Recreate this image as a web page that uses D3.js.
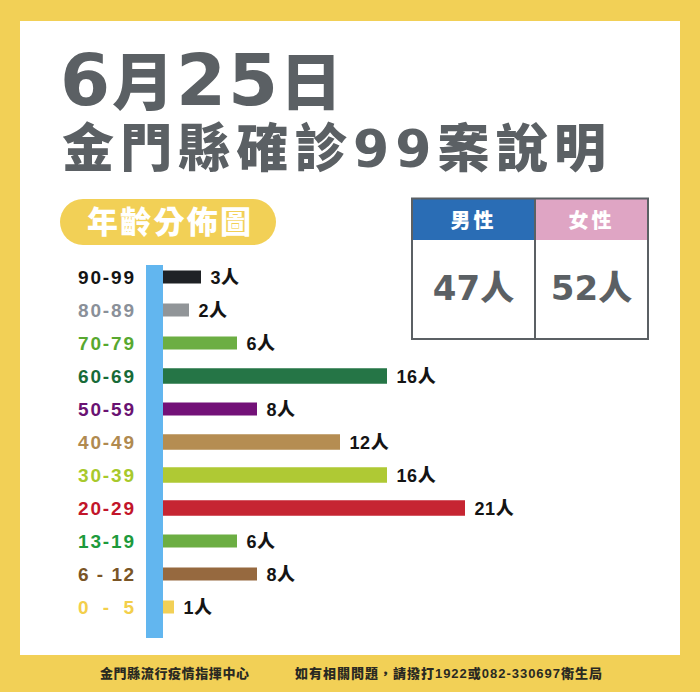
<!DOCTYPE html>
<html>
<head>
<meta charset="utf-8">
<script src="https://cdnjs.cloudflare.com/ajax/libs/d3/7.8.5/d3.min.js"></script>
<style>
  html, body { margin: 0; padding: 0; background: #fff; }
  svg { display: block; }
  text { font-family: "Liberation Sans", "Noto Sans CJK TC", sans-serif; font-weight: 700; }
  .cjk { font-family: "DejaVu Sans", "Noto Sans CJK TC", sans-serif; font-weight: 900; }
  .pie { font-family: "Liberation Sans", "Noto Sans CJK TC", sans-serif; font-weight: 900; }
</style>
</head>
<body>
<svg id="grafico" width="700" height="692"></svg>
<script>
// datos
const grupos = ["90-99", "80-89", "70-79", "60-69", "50-59", "40-49", "30-39", "20-29", "13-19", "6 - 12", "0  -  5"];
const casos = [3, 2, 6, 16, 8, 12, 16, 21, 6, 8, 1];
const coloresBarra = ["#1f2225", "#919598", "#6cae43", "#257546", "#731178", "#b58d52", "#afc934", "#c62532", "#6cae43", "#96693f", "#f2d056"];
const coloresGrupo = ["#141414", "#8a9099", "#58a82f", "#176b38", "#6a1272", "#b08a50", "#a8c92c", "#c2152a", "#1d9a3c", "#7a5526", "#f3cf4b"];
const generos = ["男性", "女性"];
const generoCasos = [47, 52];
const coloresGenero = ["#2a6db5", "#dfa5c4"];
const titulo1 = "6月25日";
const titulo2 = "金門縣確診99案說明";
const subtitulo = "年齡分佈圖";
const pie1 = "金門縣流行疫情指揮中心";
const pie2 = "如有相關問題，請撥打1922或082-330697衛生局";

const AMARILLO = "#f2d056";
const GRIS = "#5b6064";
const svg = d3.select("#grafico");

// fondo
svg.append("rect").attr("width", 700).attr("height", 692).attr("fill", AMARILLO);
svg.append("rect").attr("x", 20).attr("y", 21).attr("width", 660).attr("height", 634).attr("fill", "#fff");

// titulo con numeros mas grandes que los ideogramas
function titulo(texto, xIni, yBase, largo, tamCjk, tamNum) {
  const t = svg.append("text").attr("class", "cjk").attr("x", xIni).attr("y", yBase)
    .attr("fill", GRIS).attr("textLength", largo);
  texto.match(/\d+|\D+/g).forEach(trozo => {
    t.append("tspan")
      .attr("font-size", /\d/.test(trozo) ? tamNum : tamCjk)
      .text(trozo);
  });
}
titulo(titulo1, 60, 105, 282, 62, 72);
titulo(titulo2, 62, 167, 544, 52, 52);

// subtitulo
svg.append("rect").attr("x", 60).attr("y", 199).attr("width", 216).attr("height", 46)
  .attr("rx", 23).attr("fill", AMARILLO);
svg.append("text").attr("class", "pie").attr("x", 87).attr("y", 233)
  .attr("font-size", 31).attr("fill", "#fff").attr("textLength", 164).text(subtitulo);

// la escala del original no es del todo proporcional, por eso va por tramos
const x = d3.scaleLinear()
  .domain([0, 1, 2, 3, 6, 8, 12, 16, 21])
  .range([163, 174, 189, 201, 237, 257, 340, 387, 465]);

const y = d3.scalePoint().domain(grupos).range([277, 607]);

const grosor = d => d >= 12 ? 15.5 : 13;

const filas = grupos.map((g, i) => ({ grupo: g, valor: casos[i], color: coloresBarra[i] }));

svg.append("g").selectAll("rect")
  .data(filas)
  .join("rect")
  .attr("x", x(0))
  .attr("y", d => y(d.grupo) - grosor(d.valor) / 2)
  .attr("width", d => x(d.valor) - x(0))
  .attr("height", d => grosor(d.valor))
  .attr("fill", d => d.color);

svg.append("g").selectAll("text")
  .data(filas)
  .join("text")
  .attr("class", "pie")
  .attr("x", d => x(d.valor) + 9.5)
  .attr("y", d => y(d.grupo) + 7)
  .attr("font-size", 18)
  .attr("letter-spacing", 0.6)
  .attr("fill", "#141414")
  .text(d => d.valor + "人");

// eje con las edades
const ejeY = svg.append("g")
  .attr("transform", "translate(134,0)")
  .call(d3.axisLeft(y).tickSize(0).tickPadding(0));
ejeY.select(".domain").remove();
ejeY.selectAll("text")
  .attr("font-size", 19)
  .attr("dy", "0.36em")
  .attr("textLength", 56)
  .attr("lengthAdjust", "spacing")
  .attr("fill", (d, i) => coloresGrupo[i]);

svg.append("rect").attr("x", 146).attr("y", 265).attr("width", 17).attr("height", 373).attr("fill", "#62b6ef");

// tabla de generos, la division no cae justo al medio
const xGenero = d3.scaleLinear().domain([0, 1, 2]).range([412, 535, 648]);

svg.append("g").selectAll("rect")
  .data(generos)
  .join("rect")
  .attr("x", (d, i) => xGenero(i))
  .attr("y", 199)
  .attr("width", (d, i) => xGenero(i + 1) - xGenero(i))
  .attr("height", 41)
  .attr("fill", (d, i) => coloresGenero[i]);

svg.append("g").selectAll("text")
  .data(generos)
  .join("text")
  .attr("class", "pie")
  .attr("x", (d, i) => xGenero(i + 0.5))
  .attr("y", 228)
  .attr("text-anchor", "middle")
  .attr("font-size", 20)
  .attr("letter-spacing", 3)
  .attr("fill", "#fff")
  .text(d => d);

svg.append("g").selectAll("text")
  .data(generos)
  .join("text")
  .attr("class", "cjk")
  .attr("x", (d, i) => xGenero(i + 0.5))
  .attr("y", 300)
  .attr("text-anchor", "middle")
  .attr("font-size", 34)
  .attr("fill", GRIS)
  .text((d, i) => generoCasos[i] + "人");

svg.append("rect").attr("x", 412).attr("y", 198.5).attr("width", 236).attr("height", 140.5)
  .attr("fill", "none").attr("stroke", GRIS).attr("stroke-width", 2);
svg.append("line").attr("x1", 535).attr("x2", 535).attr("y1", 198.5).attr("y2", 339)
  .attr("stroke", GRIS).attr("stroke-width", 2);

// pie de pagina
svg.append("text").attr("class", "pie").attr("x", 100).attr("y", 678)
  .attr("font-size", 13).attr("fill", "#2a2a22").attr("textLength", 149).text(pie1);
svg.append("text").attr("class", "pie").attr("x", 295).attr("y", 678)
  .attr("font-size", 13).attr("fill", "#2a2a22").attr("textLength", 307).text(pie2);
</script>
</body>
</html>
